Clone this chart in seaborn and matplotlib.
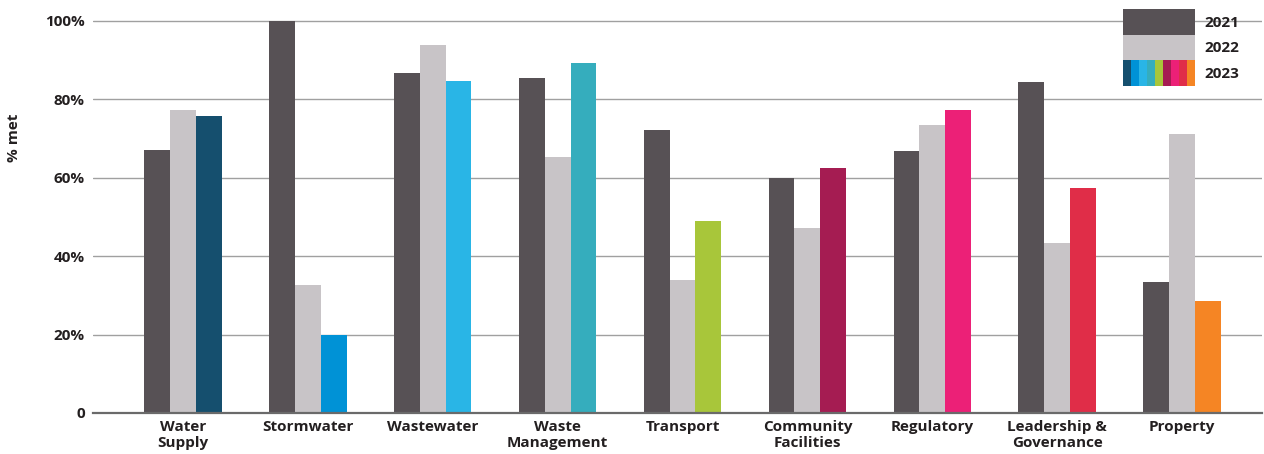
import matplotlib
matplotlib.use("Agg")
import matplotlib.pyplot as plt
import seaborn as sns
import pandas as pd
from matplotlib.patches import Patch
from matplotlib.legend_handler import HandlerTuple

categories = ["Water\nSupply", "Stormwater", "Wastewater", "Waste\nManagement", "Transport",
              "Community\nFacilities", "Regulatory", "Leadership &\nGovernance", "Property"]
years = ["2021", "2022", "2023"]
values_2021 = [67.1, 100.0, 86.7, 85.5, 72.2, 60.0, 66.8, 84.4, 33.4]
values_2022 = [77.3, 32.7, 93.9, 65.3, 33.9, 47.2, 73.5, 43.4, 71.2]
values_2023 = [75.8, 19.9, 84.7, 89.3, 49.0, 62.5, 77.3, 57.4, 28.6]
yticks = [0, 20, 40, 60, 80, 100]
ytick_labels = ["0", "20%", "40%", "60%", "80%", "100%"]

color_2021 = "#575155"
color_2022 = "#c8c4c7"
colors_2023 = ["#154f6e", "#0092d6", "#29b5e6", "#35adbd", "#a8c63a",
               "#a51c52", "#ec2077", "#e02d48", "#f58524"]

rows = []
for yr, vals in zip(years, [values_2021, values_2022, values_2023]):
    for c, v in zip(categories, vals):
        rows.append({"category": c, "year": yr, "value": v})
df = pd.DataFrame(rows)

sns.set_theme(style="white")
plt.rcParams["font.family"] = ["Open Sans", "DejaVu Sans"]
text_color = "#231f20"

fig = plt.figure(figsize=(12.64, 4.54), dpi=100)
ax = fig.add_axes([93 / 1264, 1 - 413 / 454, (1262 - 93) / 1264, (413 - 5) / 454])

sns.barplot(data=df, x="category", y="value", hue="year", order=categories,
            hue_order=years, palette=[color_2021, color_2022, colors_2023[0]],
            width=0.62, saturation=1, ax=ax, legend=False, errorbar=None)

for bar, col in zip(ax.containers[2], colors_2023):
    bar.set_facecolor(col)
for cont in ax.containers:
    for bar in cont:
        bar.set_edgecolor("none")
        bar.set_zorder(3)

ax.set_ylim(0, 104)
ax.set_xlim(-0.72, 8.64)
ax.set_yticks(yticks)
ax.set_yticklabels(ytick_labels)
ax.yaxis.grid(True, color="#a0a0a0", linewidth=1)
ax.set_axisbelow(True)
for s in ["top", "right", "left"]:
    ax.spines[s].set_visible(False)
ax.spines["bottom"].set_color("#6a6a6a")
ax.spines["bottom"].set_linewidth(1.6)
ax.spines["bottom"].set_zorder(4)
ax.tick_params(axis="both", length=0)
ax.tick_params(axis="y", pad=6)
ax.tick_params(axis="x", pad=5)
for lbl in ax.get_yticklabels() + ax.get_xticklabels():
    lbl.set_fontweight("bold")
    lbl.set_fontsize(11)
    lbl.set_color(text_color)
for lbl in ax.get_xticklabels():
    lbl.set_linespacing(1.2)

ax.set_xlabel("")
ax.set_ylabel("% met", fontsize=11, fontweight="bold", color=text_color)
ax.yaxis.set_label_coords(-0.062, 0.674)

handles = [Patch(facecolor=color_2021, edgecolor="none"),
           Patch(facecolor=color_2022, edgecolor="none"),
           tuple(Patch(facecolor=c, edgecolor="none") for c in colors_2023)]
leg = fig.legend(handles, years, loc="upper left",
                 bbox_to_anchor=(1123 / 1264, 1 - 9 / 454),
                 handler_map={tuple: HandlerTuple(ndivide=None, pad=0)},
                 frameon=False, fontsize=11, handlelength=4.7, handleheight=2.2,
                 labelspacing=0, borderpad=0, borderaxespad=0, handletextpad=0.6)
for t in leg.get_texts():
    t.set_fontweight("bold")
    t.set_color(text_color)

fig.savefig("out.png", dpi=100)
